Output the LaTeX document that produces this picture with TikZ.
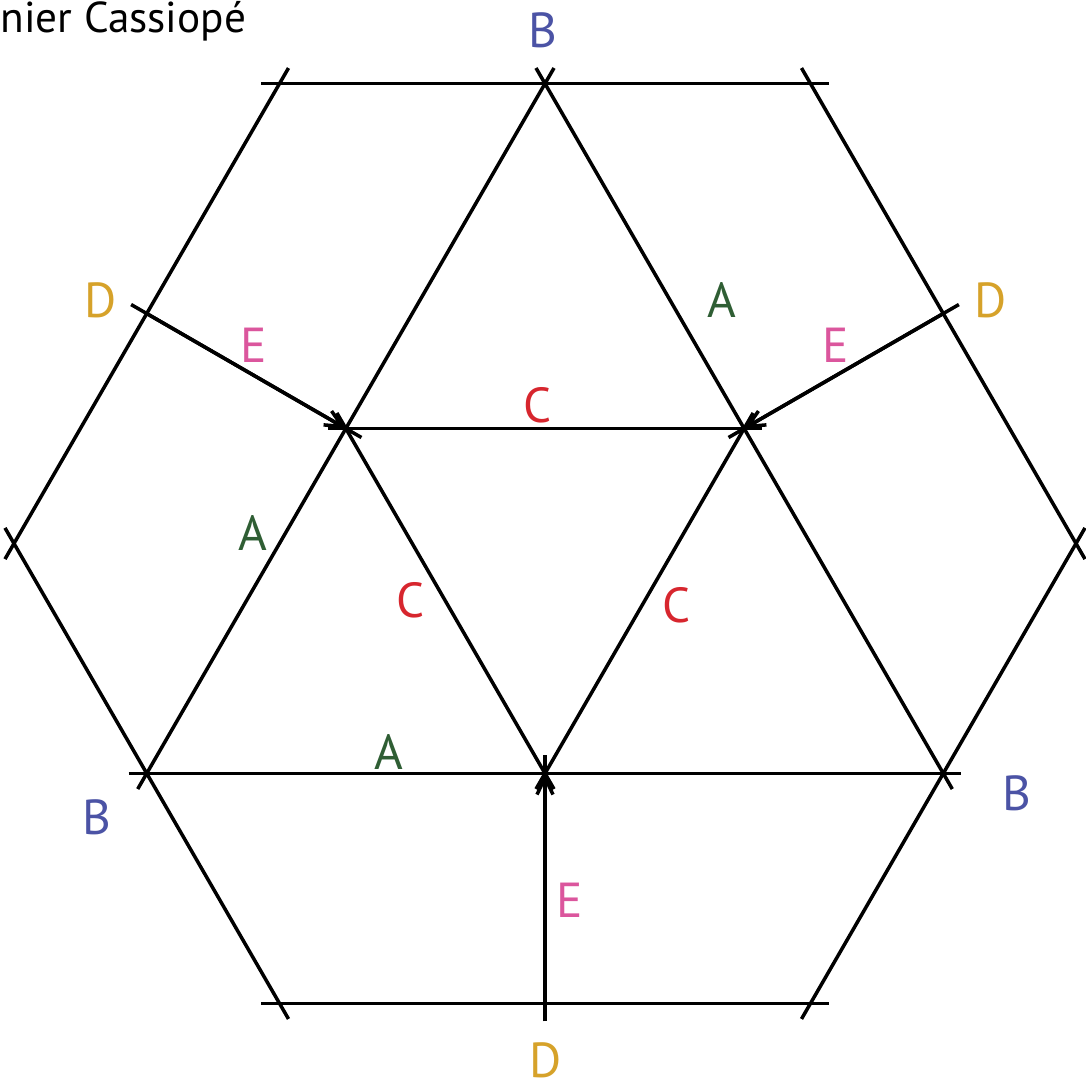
\documentclass[tikz,border=0pt]{standalone}
\usepackage{fontspec}
\setmainfont{PT Sans}
\usetikzlibrary{arrows.meta}
\definecolor{colB}{RGB}{75,83,165}
\definecolor{colD}{RGB}{214,162,42}
\definecolor{colE}{RGB}{219,86,157}
\definecolor{colA}{RGB}{47,94,52}
\definecolor{colC}{RGB}{215,38,46}
\tikzset{
  seg/.style={line width=1pt, shorten <=-1.8mm, shorten >=-1.8mm},
  tip/.style={line width=1pt, -{Straight Barb[length=1.7mm,width=1.6mm]}},
  lab/.style={font=\fontsize{14}{16}\selectfont, inner sep=0pt},
}
\begin{document}
\begin{tikzpicture}
  \useasboundingbox (-5.45,-5.425) rectangle (5.41,5.435);
  % hexagon corners
  \foreach \i in {0,...,5} \coordinate (h\i) at (60*\i:5.31);
  % edge midpoints and inner triangle
  \coordinate (bt) at (90:4.599);
  \coordinate (bl) at (210:4.599);
  \coordinate (br) at (330:4.599);
  \coordinate (dr) at (30:4.599);
  \coordinate (dl) at (150:4.599);
  \coordinate (db) at (270:4.599);
  \coordinate (mr) at (30:2.2995);
  \coordinate (ml) at (150:2.2995);
  \coordinate (mb) at (270:2.2995);

  \foreach \i [evaluate=\i as \j using {int(mod(\i+1,6))}] in {0,...,5}
    \draw[seg] (h\i) -- (h\j);
  \draw[seg] (bt) -- (bl);
  \draw[seg] (bl) -- (br);
  \draw[seg] (br) -- (bt);
  \draw[seg] (ml) -- (mr);
  \draw[seg] (ml) -- (mb);
  \draw[seg] (mr) -- (mb);
  \foreach \d/\m in {dl/ml, dr/mr, db/mb} {
    \draw[seg] (\d) -- (\m);
    \draw[tip] (\d) -- (\m);
  }

  \node[anchor=base west, inner sep=0pt, font=\fontsize{12.3}{14}\selectfont] (title) at (-5.45,5.105) {nier Cassiopé};
  \node[lab, text=colB] (lbt) at (-0.02,5.135) {B};
  \node[lab, text=colB] (lbl) at (-4.48,-2.735) {B};
  \node[lab, text=colB] (lbr) at (4.72,-2.495) {B};
  \node[lab, text=colD] (ldl) at (-4.44,2.435) {D};
  \node[lab, text=colD] (ldr) at (4.46,2.435) {D};
  \node[lab, text=colD] (ldb) at (0.01,-5.165) {D};
  \node[lab, text=colE] (lel) at (-2.91,1.985) {E};
  \node[lab, text=colE] (ler) at (2.91,1.985) {E};
  \node[lab, text=colE] (leb) at (0.25,-3.565) {E};
  \node[lab, text=colA] (lar) at (1.77,2.435) {A};
  \node[lab, text=colA] (lal) at (-2.92,0.105) {A};
  \node[lab, text=colA] (lab) at (-1.56,-2.085) {A};
  \node[lab, text=colC] (lct) at (-0.07,1.385) {C};
  \node[lab, text=colC] (lcl) at (-1.34,-0.565) {C};
  \node[lab, text=colC] (lcr) at (1.32,-0.615) {C};
\end{tikzpicture}
\end{document}
